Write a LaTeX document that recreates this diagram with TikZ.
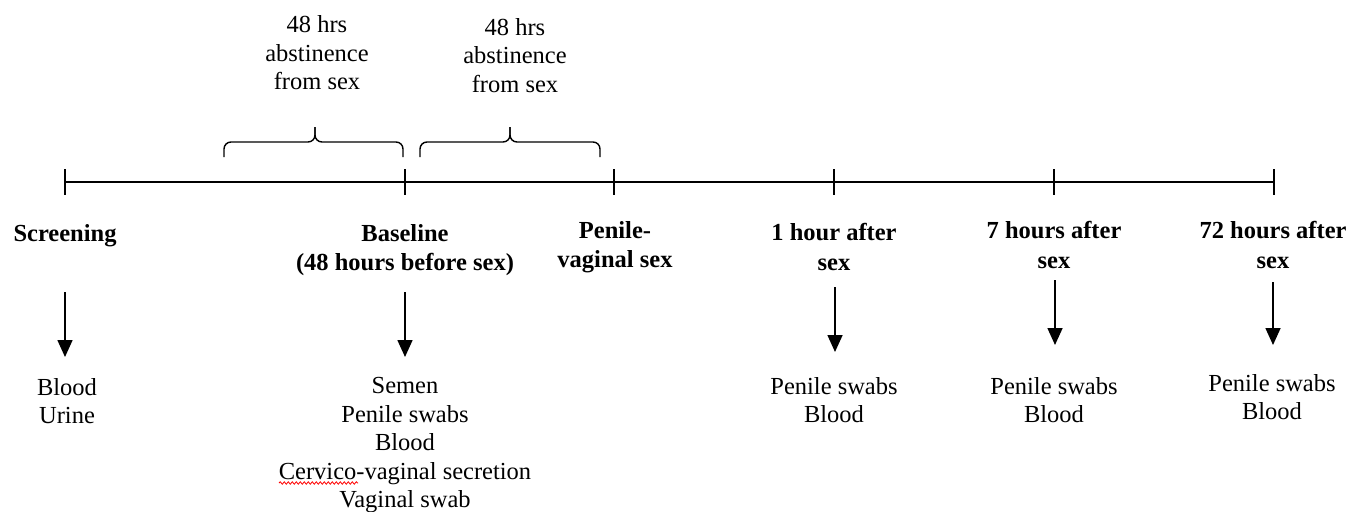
\documentclass[tikz,border=0pt]{standalone}
\usepackage{fontspec}
\setmainfont{Liberation Serif}
\usetikzlibrary{arrows.meta,decorations.pathmorphing}

\begin{document}
\begin{tikzpicture}[x=1pt,y=-1pt]
	\tikzset{lbl/.style = {font=\fontsize{24.5}{29.5}\selectfont\bfseries, align=center, inner sep=0pt},
	smp/.style = {font=\fontsize{24.5}{28.5}\selectfont, align=center, inner sep=0pt},
	tickline/.style = {line width=1.6pt},
	arr/.style = {line width=1.6pt, -{Triangle[length=17pt,width=15pt]}},
	brc/.style = {line width=1.4pt, rounded corners=7pt}}
	\useasboundingbox (0,0) rectangle (1364,511);
	% timeline
	\coordinate (t1) at (65,182);
	\coordinate (t2) at (405,182);
	\coordinate (t3) at (614,182);
	\coordinate (t4) at (834,182);
	\coordinate (t5) at (1054,182);
	\coordinate (t6) at (1274,182);
	\draw[tickline] (t1) -- (t6);
	\foreach \t in {t1,t2,t3,t4,t5,t6}
		\draw[tickline] ([yshift=13pt]\t) -- ([yshift=-13pt]\t);
	% abstinence braces
	\foreach \l/\m/\r [count=\i] in {224/315/403, 420/510/600}{
		\coordinate (b\i l) at (\l,157);
		\coordinate (b\i m) at (\m,127);
		\coordinate (b\i r) at (\r,157);
		\draw[brc] (b\i l) -- ++(0,-15) -| (b\i m);
		\draw[brc] (b\i r) -- ++(0,-15) -| (b\i m);
	}
	\node[smp] (abst1) at (317,53) {48 hrs\\abstinence\\from sex};
	\node[smp] (abst2) at (515,55.5) {48 hrs\\abstinence\\from sex};
	% time points
	\node[lbl] (screen) at (65,236) {Screening};
	\node[lbl] (base) at (405,250) {Baseline\\(48 hours before sex)};
	\node[lbl] (pvs) at (615,247) {Penile-\\vaginal sex};
	\node[lbl] (h1) at (834,247) {1 hour after\\sex};
	\node[lbl] (h7) at (1054,245) {7 hours after\\sex};
	\node[lbl] (h72) at (1273,245) {72 hours after\\sex};
	% samples
	\node[smp] (s1) at (67,401) {Blood\\Urine};
	\node[smp] (s2) at (405,445.5) {Semen\\Penile swabs\\Blood\\Cervico-vaginal secretion\\Vaginal swab};
	\node[smp] (s4) at (834,400) {Penile swabs\\Blood};
	\node[smp] (s5) at (1054,400) {Penile swabs\\Blood};
	\node[smp] (s6) at (1272,397) {Penile swabs\\Blood};
	% arrows
	\coordinate (a1) at (65,292);   \coordinate (e1) at (65,357);
	\coordinate (a2) at (405,292);  \coordinate (e2) at (405,357);
	\coordinate (a4) at (835,287);  \coordinate (e4) at (835,352);
	\coordinate (a5) at (1055,280); \coordinate (e5) at (1055,345);
	\coordinate (a6) at (1273,282); \coordinate (e6) at (1273,345);
	\foreach \i in {1,2,4,5,6}
		\draw[arr] (a\i) -- (e\i);
	% spell-check mark
	\draw[red, line width=0.8pt, decorate, decoration={snake, amplitude=1.2pt, segment length=4pt}] (279,483) -- (358,483);
\end{tikzpicture}
\end{document}
